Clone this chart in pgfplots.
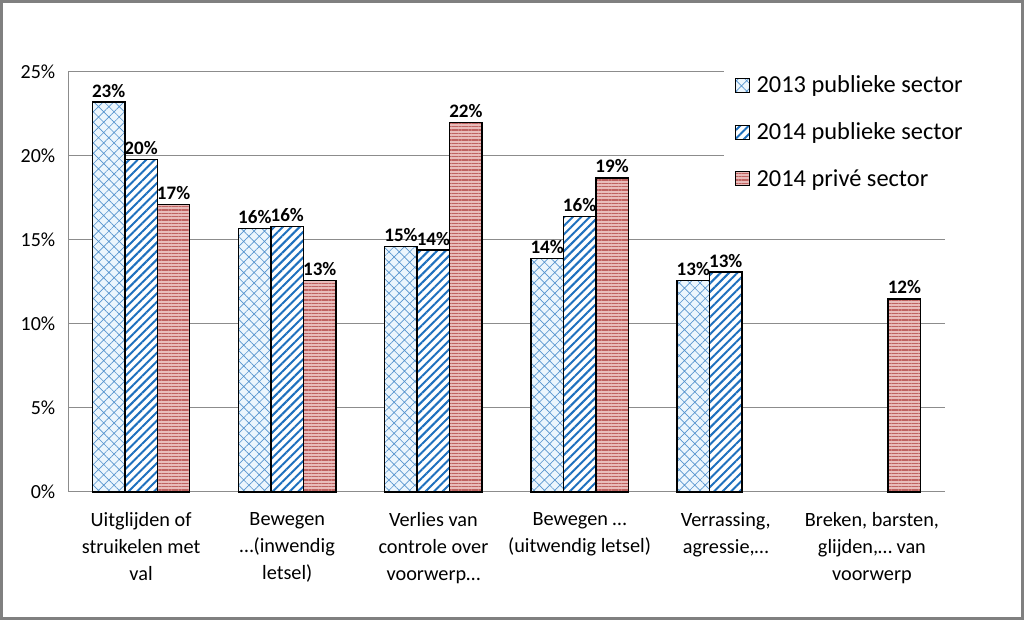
\documentclass[border=0pt]{standalone}
\usepackage{pgfplots}
\pgfplotsset{compat=1.18}
\usepackage{fontspec}
\setmainfont{Carlito}
\usetikzlibrary{patterns.meta}
\definecolor{blueA}{RGB}{30,112,190}
\definecolor{blueL}{RGB}{236,246,253}
\definecolor{pinkfill}{RGB}{232,188,186}
\definecolor{redline}{RGB}{180,70,68}
\definecolor{gridc}{RGB}{140,140,140}
\definecolor{framec}{RGB}{128,128,128}
\begin{document}
\begin{tikzpicture}
\path (0,0) rectangle (768pt,465pt);
\draw[line width=2.25pt, framec] (1.125pt,1.125pt) rectangle (766.875pt,463.875pt);
\begin{axis}[
  at={(51pt,96pt)}, anchor=south west,
  scale only axis, width=657.75pt, height=315pt,
  xmin=-0.5, xmax=5.5, ymin=0, ymax=25,
  ytick={0,5,10,15,20,25},
  yticklabel={\pgfmathprintnumber{\tick}\%},
  /pgf/number format/assume math mode=true,
  yticklabel style={font=\fontsize{15}{18}\selectfont, xshift=-6pt},
  xtick={0,1,2,3,4,5},
  xticklabels={{Uitglijden of\\struikelen met\\val},{Bewegen\\…(inwendig\\letsel)},{Verlies van\\controle over\\voorwerp…},{Bewegen …\\(uitwendig letsel)},{Verrassing,\\agressie,…},{Breken, barsten,\\glijden,… van\\voorwerp}},
  xticklabel style={font=\fontsize{15.2}{20.25}\selectfont, align=center, yshift=-12pt},
  major tick length=0pt,
  ymajorgrids, grid style={gridc, line width=0.75pt},
  axis x line*=bottom, axis y line*=left,
  axis line style={gridc, line width=0.75pt},
  separate axis lines,
  x axis line style={-}, y axis line style={-},
  ybar, bar width=0.222,
  clip=false,
  nodes near coords, point meta=explicit symbolic,
  every node near coord/.append style={font=\bfseries\fontsize{14.3}{16}\selectfont, black, inner sep=3pt},
  legend style={at={(0.748,1.03)}, anchor=north west, draw=none, fill=white,
    font=\fontsize{18.3}{21}\selectfont, row sep=17pt, inner xsep=8pt, inner ysep=10pt},
  legend cell align=left,
  legend image code/.code={\draw[#1, line width=0.75pt] (1pt,-5.25pt) rectangle (11.5pt,5.25pt);},
]
\addplot[bar shift=-0.222, draw=black, line width=1.1pt, fill=blueL,
  postaction={pattern={Hatch[angle=45,distance=5.5pt,line width=0.5pt]}, pattern color=blueA!75}]
  coordinates {(0,23.2) [23\%] (1,15.7) [16\%] (2,14.6) [15\%] (3,13.9) [14\%] (4,12.6) [13\%]};
\addlegendentry{\hspace{3pt}2013 publieke sector}
\addplot[bar shift=0, draw=black, line width=1.1pt, fill=white,
  postaction={pattern={Lines[angle=45,distance=4.5pt,line width=1.5pt]}, pattern color=blueA}]
  coordinates {(0,19.8) [20\%] (1,15.8) [16\%] (2,14.4) [14\%] (3,16.4) [16\%] (4,13.1) [13\%]};
\addlegendentry{\hspace{3pt}2014 publieke sector}
\addplot[bar shift=0.222, draw=black, line width=1.1pt, fill=pinkfill,
  postaction={pattern={Lines[angle=0,distance=2.5pt,line width=0.8pt]}, pattern color=redline!85}]
  coordinates {(0,17.1) [17\%] (1,12.6) [13\%] (2,22.0) [22\%] (3,18.7) [19\%] (5,11.5) [12\%]};
\addlegendentry{\hspace{3pt}2014 privé sector}
\end{axis}
\end{tikzpicture}
\end{document}
